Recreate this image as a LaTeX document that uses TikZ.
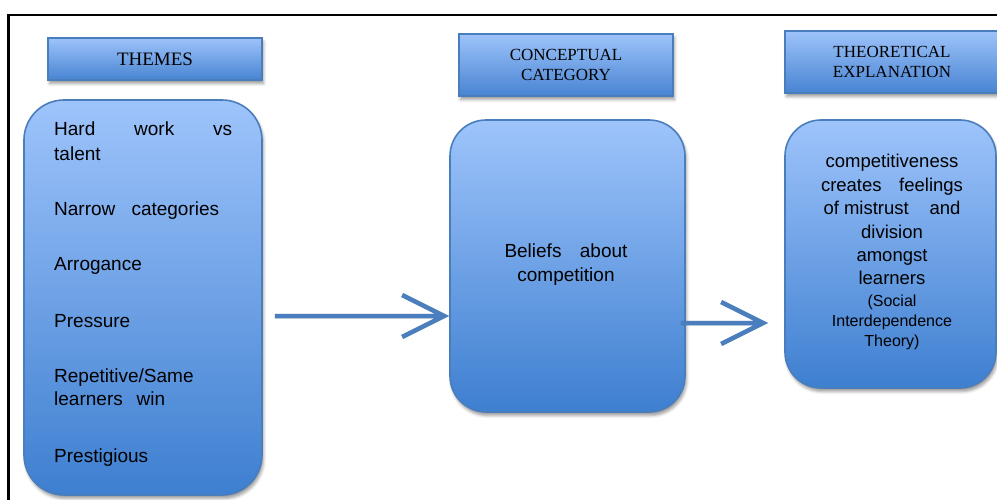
\documentclass[tikz,border=0pt]{standalone}
\usepackage{fontspec}
\setmainfont{Liberation Sans}
\newfontfamily\headfont{Liberation Serif}
\usetikzlibrary{shadows.blur,calc}

\definecolor{boxtop}{HTML}{9EC4FB}
\definecolor{boxbot}{HTML}{3E7FD0}
\definecolor{headtop}{HTML}{9DC3FA}
\definecolor{headbot}{HTML}{4884D2}
\definecolor{boxedge}{HTML}{4A7DBB}
\definecolor{flowblue}{HTML}{4A7EBF}

\begin{document}
\begin{tikzpicture}[x=1pt,y=-1pt,
  softshadow/.style={blur shadow={shadow xshift=1.5pt, shadow yshift=-3.5pt,
      shadow blur radius=3pt, shadow opacity=40}},
  headbox/.style={rectangle, draw=boxedge, line width=1.4pt,
      top color=headtop, bottom color=headbot, inner sep=0pt, softshadow,
      align=center, font=\headfont\fontsize{17}{20}\selectfont},
  panel/.style={rectangle, draw=boxedge, line width=1.6pt,
      top color=boxtop, bottom color=boxbot, inner sep=0pt,
      rounded corners=38pt, softshadow},
  item/.style={anchor=base west, inner sep=0pt, font=\fontsize{19}{25}\selectfont},
  flow/.style={draw=flowblue, line width=4.5pt},
  flowshade/.style={draw=black, opacity=0.18, line width=4.5pt,
      shift={(1pt,-3pt)}},
]
\useasboundingbox (0,0) rectangle (997,500);
\clip (0,0) rectangle (997,500);

% outer frame (only its top and left sides fall inside the page)
\draw[line width=2.4pt, line join=miter] (8.6,540) -- (8.6,15.2) -- (1020,15.2);

% column headings
\node[headbox, minimum width=214pt, minimum height=42pt,
      font=\headfont\fontsize{19}{22}\selectfont] (themesH) at (155,59) {THEMES};
\node[headbox, minimum width=214pt, minimum height=62pt] (conceptH) at (566,65)
      {CONCEPTUAL\\CATEGORY};
\node[headbox, minimum width=214pt, minimum height=62pt] (theoryH) at (892,62)
      {THEORETICAL\\EXPLANATION};

% content panels
\node[panel, minimum width=238pt, minimum height=395pt, rounded corners=40pt]
      (themes) at (143,297.5) {};
\node[panel, minimum width=235pt, minimum height=292pt, rounded corners=36pt]
      (concept) at (567.5,266) {};
\node[panel, minimum width=211pt, minimum height=268pt, rounded corners=36pt]
      (theory) at (890.5,254) {};

% themes
\node[item] (t1) at (54,136)
  {\begin{tabular}[t]{@{}l@{}}\makebox[178pt][s]{Hard work vs}\\talent\end{tabular}};
\node[item] (t2) at (54,216) {\makebox[165pt][s]{Narrow categories}};
\node[item] (t3) at (54,270) {Arrogance};
\node[item] (t4) at (54,327) {Pressure};
\node[item, font=\fontsize{19}{23}\selectfont] (t5) at (54,382)
  {\begin{tabular}[t]{@{}l@{}}Repetitive/Same\\\makebox[111pt][s]{learners win}\end{tabular}};
\node[item] (t6) at (54,462) {Prestigious};

% conceptual category
\node[anchor=base, inner sep=0pt, font=\fontsize{19}{24}\selectfont] (ctext) at (566,258)
  {\begin{tabular}[t]{@{}c@{}}\makebox[123pt][s]{Beliefs about}\\competition\end{tabular}};

% theoretical explanation
\node[anchor=base, inner sep=0pt, font=\fontsize{18.5}{23.4}\selectfont] (ttext) at (892,168)
  {\begin{tabular}[t]{@{}c@{}}
    competitiveness\\
    \makebox[142pt][s]{creates feelings}\\
    \makebox[137pt][s]{of mistrust\hfil and}\\
    division\\
    amongst\\
    learners\\[-1.4pt]
    {\fontsize{16}{20}\selectfont (Social}\\[-3.4pt]
    {\fontsize{16}{20}\selectfont Interdependence}\\[-3.4pt]
    {\fontsize{16}{20}\selectfont Theory)}
  \end{tabular}};

% connectors
\coordinate (a1s) at ($(themes.east)+(12,18.5)$);
\coordinate (a1e) at ($(concept.west)+(-5,50)$);
\coordinate (a2s) at ($(concept.east)+(-5,57)$);
\coordinate (a2e) at ($(theory.west)+(-21,69)$);

\foreach \s/\e in {a1s/a1e, a2s/a2e}{
  \draw[flowshade] (\s) -- (\e) ($(\e)+(-42,-21)$) -- (\e) -- ($(\e)+(-42,21)$);
  \draw[flow] (\s) -- (\e) ($(\e)+(-42,-21)$) -- (\e) -- ($(\e)+(-42,21)$);
}
\end{tikzpicture}
\end{document}
